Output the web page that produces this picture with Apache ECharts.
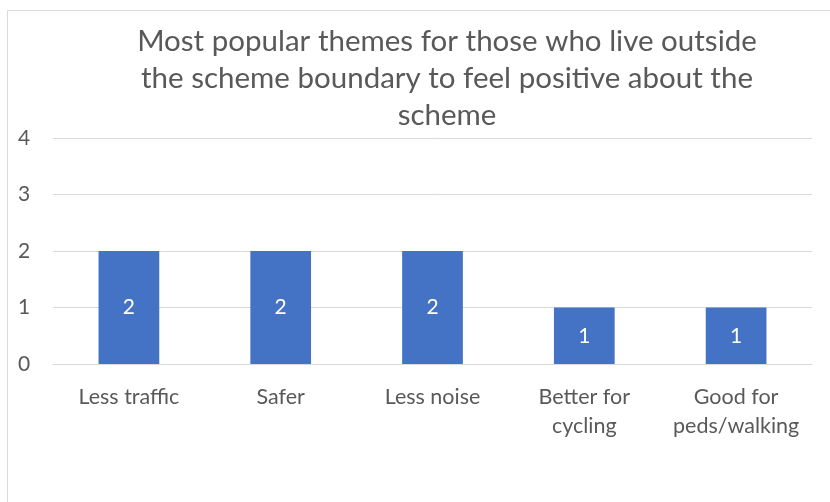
<!DOCTYPE html>
<html><head><meta charset="utf-8">
<script src="https://cdn.jsdelivr.net/npm/echarts@6/dist/echarts.min.js"></script>
<style>html,body{margin:0;padding:0;background:#fff}#c{width:830px;height:502px}</style>
</head><body><div id="c"></div>
<script>
const categories = ["Less traffic", "Safer", "Less noise", "Better for\ncycling", "Good for\npeds/walking"];
const values = [2, 2, 2, 1, 1];
const yTicks = [0, 1, 2, 3, 4];
const titleText = "Most popular themes for those who live outside\nthe scheme boundary to feel positive about the\nscheme";

const font = "Lato, 'Open Sans', sans-serif";
const chart = echarts.init(document.getElementById('c'), null, {renderer: 'canvas'});
chart.setOption({
  animation: false,
  graphic: [{type: 'rect', shape: {x: 7.5, y: 10.5, width: 840, height: 520}, style: {fill: 'none', stroke: '#d9d9d9', lineWidth: 1}, z: -1}],
  title: {
    text: titleText, left: 442, top: 18, textAlign: 'center',
    textStyle: {fontFamily: font, fontSize: 29.5, fontWeight: 'normal', color: '#595959', lineHeight: 37}
  },
  grid: {left: 53, right: 18, top: 138, bottom: 138},
  xAxis: {
    type: 'category', data: categories,
    axisLine: {show: true, lineStyle: {color: '#d9d9d9', width: 1}},
    axisTick: {show: false},
    axisLabel: {fontFamily: font, fontSize: 21.5, color: '#595959', margin: 19, lineHeight: 29, interval: 0}
  },
  yAxis: {
    type: 'value', min: yTicks[0], max: yTicks[yTicks.length - 1], interval: 1,
    axisLine: {show: false}, axisTick: {show: false},
    splitLine: {lineStyle: {color: '#d9d9d9', width: 1}},
    axisLabel: {fontFamily: font, fontSize: 21, color: '#595959', margin: 35, align: 'left',
      formatter: v => String(v)}
  },
  series: [{
    type: 'bar', data: values, barWidth: '40%',
    itemStyle: {color: '#4472C4'},
    label: {show: true, position: 'inside', color: '#fff', fontFamily: font, fontSize: 21}
  }]
});
</script></body></html>
